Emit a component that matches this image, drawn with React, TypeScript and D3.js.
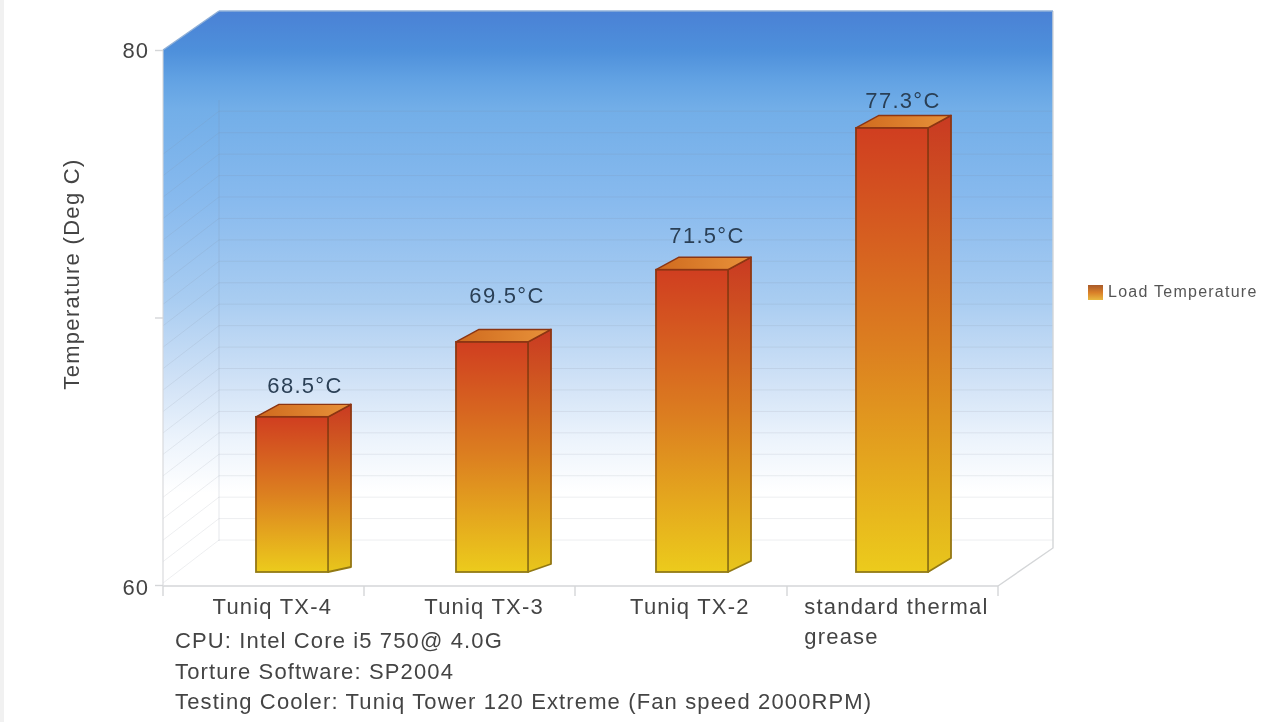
import * as d3 from 'd3';
import React, { useEffect, useRef } from 'react';

const categories = ['Tuniq TX-4', 'Tuniq TX-3', 'Tuniq TX-2', 'standard thermal'];
const barValues = [65.8, 68.6, 71.3, 76.6];
const valueLabels = ['68.5°C', '69.5°C', '71.5°C', '77.3°C'];
const yTickValues = [60, 70, 80];
const yTickLabels = ['60', '', '80'];
const gridValues = d3.range(60.26, 76.4, 0.8);
const notes = [
  'CPU: Intel Core i5 750@ 4.0G',
  'Torture Software: SP2004',
  'Testing Cooler: Tuniq Tower 120 Extreme (Fan speed 2000RPM)',
];
const fontFamily = '"Liberation Sans", Arial, sans-serif';

const width = 1280;
const height = 722;
const plot = { left: 163, right: 998, top: 50, bottom: 585 };
const depth = { dx: 56, dy: -39 };

function addGradient(defs: any, id: string, stops: [number, string][], extra: any = {}) {
  const g = defs.append('linearGradient').attr('id', id).attr('x1', 0).attr('x2', extra.x2 || 0).attr('y1', 0).attr('y2', extra.x2 ? 0 : 1);
  if (extra.user) {
    g.attr('gradientUnits', 'userSpaceOnUse').attr('y1', extra.user[0]).attr('y2', extra.user[1]);
  }
  stops.forEach(([o, c]) => g.append('stop').attr('offset', o).attr('stop-color', c));
}

export default function App() {
  const ref = useRef<SVGSVGElement>(null);

  useEffect(() => {
    const svg = d3.select(ref.current);
    svg.selectAll('*').remove();
    const defs = svg.append('defs');

    addGradient(defs, 'wall', [
      [0, '#4a81d5'],
      [0.07, '#4e90db'],
      [0.12, '#62a2e3'],
      [0.17, '#72aee8'],
      [0.33, '#88baee'],
      [0.5, '#a8ccf1'],
      [0.64, '#cfe1f6'],
      [0.75, '#edf4fc'],
      [0.84, '#ffffff'],
      [1, '#ffffff'],
    ], { user: [11, 585] });
    addGradient(defs, 'barFront', [[0, '#d03e20'], [0.5, '#dc8020'], [1, '#eccb1c']]);
    addGradient(defs, 'barSide', [[0, '#c93a22'], [0.5, '#d97c1f'], [1, '#e8c61c']]);
    addGradient(defs, 'barTop', [[0, '#cf6a1e'], [1, '#e8923a']], { x2: 1 });
    addGradient(defs, 'barEdge', [[0, '#8c3512'], [0.6, '#a05a12'], [1, '#927a14']]);
    addGradient(defs, 'swatch', [[0, '#a85a2a'], [0.5, '#d97f28'], [1, '#e8b840']]);

    svg.append('rect').attr('width', 4).attr('height', height).attr('fill', '#f1f1f1');

    const y = d3.scaleLinear().domain([60, 80]).range([plot.bottom, plot.top]);
    // back wall is the front scale pushed up, floor line sits a bit lower
    const yBack = d3.scaleLinear().domain([60, 80]).range([547, 11]);
    const yBar = d3.scaleLinear().domain([60, 80]).range([572, 37]);
    const xAxisBand = d3.scaleBand().domain(categories).range([plot.left, plot.right]);
    const xBar = d3.scaleBand().domain(categories).range([192, 992]).paddingInner(0.64).paddingOuter(0.32);
    // ticks are not evenly spaced in the picture
    const xTick = d3.scaleLinear().domain([0, 1, 2, 3, 4]).range([plot.left, 364, 575, 787, plot.right]);
    const bottomRise = d3.scaleLinear().domain([0, 3]).range([5, 14]);

    const backLeft = plot.left + depth.dx;
    const backRight = plot.right + 55;
    const poly = (pts: [number, number][]) => d3.line()(pts) + 'Z';

    // walls
    svg.append('path')
      .attr('d', poly([[plot.left, plot.top], [backLeft, 11], [backLeft, 541], [plot.left, plot.bottom]]))
      .attr('fill', 'url(#wall)');
    svg.append('rect')
      .attr('x', backLeft).attr('y', 11)
      .attr('width', backRight - backLeft).attr('height', 537)
      .attr('fill', 'url(#wall)');

    // grid
    const grid = svg.append('g').attr('fill', 'none').attr('stroke', '#7c8894').attr('stroke-opacity', 0.14);
    grid.selectAll('line.h').data(gridValues).enter().append('line')
      .attr('class', 'h')
      .attr('x1', backLeft).attr('x2', backRight)
      .attr('y1', (d) => yBack(d)).attr('y2', (d) => yBack(d));
    grid.selectAll('line.d').data(gridValues).enter().append('line')
      .attr('class', 'd')
      .attr('x1', backLeft).attr('x2', plot.left)
      .attr('y1', (d) => yBack(d)).attr('y2', (d) => yBack(d) + 43);
    svg.append('line').attr('x1', backLeft).attr('x2', backLeft).attr('y1', 100).attr('y2', 541)
      .attr('stroke', '#7c8894').attr('stroke-opacity', 0.2);

    // frame
    const frame = svg.append('g').attr('fill', 'none').attr('stroke', '#d4d6d8').attr('stroke-width', 1.4);
    frame.append('path').attr('d', d3.line()([[backRight, 11], [backRight, 548], [plot.right, plot.bottom + 1]]));
    frame.append('path').attr('d', d3.line()([[plot.left, plot.top], [plot.left, plot.bottom]])).attr('stroke-opacity', 0.75);
    frame.append('path').attr('d', d3.line()([[backLeft, 11], [backRight, 11]])).attr('stroke', '#8fb0d8');
    frame.append('path').attr('d', d3.line()([[plot.left, plot.top], [backLeft, 11]])).attr('stroke', '#8fb0d8');

    // y axis ticks
    const yAxis = d3.axisLeft(y)
      .tickValues(yTickValues)
      .tickSize(8)
      .tickPadding(6)
      .tickFormat((_d, i) => yTickLabels[i]);
    const yG = svg.append('g').attr('transform', `translate(${plot.left},0)`).call(yAxis as any);
    yG.select('.domain').remove();
    yG.selectAll('line').attr('stroke', '#d4d6d8').attr('stroke-width', 1.4);
    yG.selectAll('text')
      .attr('font-family', fontFamily).attr('font-size', 22).attr('fill', '#444').attr('letter-spacing', 1);
    yG.selectAll('.tick').filter((d: any) => d === 60).select('text').attr('dy', '0.45em');

    // x axis
    const xEdges = d3.range(0, categories.length + 1);
    svg.append('line')
      .attr('x1', plot.left).attr('x2', plot.right)
      .attr('y1', plot.bottom + 1).attr('y2', plot.bottom + 1)
      .attr('stroke', '#d4d6d8').attr('stroke-width', 1.4);
    svg.append('g').selectAll('line').data(xEdges).enter().append('line')
      .attr('x1', (d) => xTick(d)).attr('x2', (d) => xTick(d))
      .attr('y1', plot.bottom + 1).attr('y2', plot.bottom + 11)
      .attr('stroke', '#d4d6d8').attr('stroke-width', 1.4);

    const catText = svg.append('g')
      .attr('font-family', fontFamily).attr('font-size', 22).attr('fill', '#444').attr('letter-spacing', 1.2);
    catText.selectAll('text.cat').data(categories.slice(0, 3)).enter().append('text')
      .attr('class', 'cat')
      .attr('x', (d, i) => (xAxisBand(d) as number) + xAxisBand.bandwidth() / 2 + [5, 8, 5][i])
      .attr('y', 614)
      .attr('text-anchor', 'middle')
      .text((d) => d);
    const lastX = (xAxisBand(categories[3]) as number) + 15;
    catText.append('text').attr('x', lastX).attr('y', 614).text(categories[3]);
    catText.append('text').attr('x', lastX).attr('y', 644).text('grease');

    // bars
    const bars = svg.append('g').selectAll('g').data(barValues).enter().append('g');
    const bx0 = (i: number) => xBar(categories[i]) as number;
    const bx1 = (i: number) => bx0(i) + xBar.bandwidth();
    const barDx = 23;
    const barTopDy = 12.5;
    const edge = { stroke: 'url(#barEdge)', width: 1.8 };
    bars.append('path')
      .attr('d', (d, i) => poly([
        [bx1(i), yBar(d)],
        [bx1(i) + barDx, yBar(d) - barTopDy],
        [bx1(i) + barDx, yBar(60) - bottomRise(i)],
        [bx1(i), yBar(60)],
      ]))
      .attr('fill', 'url(#barSide)')
      .attr('stroke', edge.stroke).attr('stroke-width', edge.width).attr('stroke-linejoin', 'round');
    bars.append('path')
      .attr('d', (d, i) => poly([
        [bx0(i), yBar(d)],
        [bx0(i) + barDx, yBar(d) - barTopDy],
        [bx1(i) + barDx, yBar(d) - barTopDy],
        [bx1(i), yBar(d)],
      ]))
      .attr('fill', 'url(#barTop)')
      .attr('stroke', '#8c3512').attr('stroke-width', 1.4).attr('stroke-linejoin', 'round');
    bars.append('rect')
      .attr('x', (_d, i) => bx0(i))
      .attr('y', (d) => yBar(d))
      .attr('width', xBar.bandwidth())
      .attr('height', (d) => yBar(60) - yBar(d))
      .attr('fill', 'url(#barFront)')
      .attr('stroke', edge.stroke).attr('stroke-width', edge.width);

    // value labels, placed over their bars
    svg.append('g').selectAll('text').data(valueLabels).enter().append('text')
      .attr('x', (_d, i) => bx0(i) + xBar.bandwidth() / 2 + [13, 15, 15, 11][i])
      .attr('y', (_d, i) => yBar(barValues[i]) - [24, 39, 27, 20][i])
      .attr('text-anchor', 'middle')
      .attr('font-family', fontFamily).attr('font-size', 22)
      .attr('fill', '#2a3f55').attr('letter-spacing', 1.3)
      .text((d) => d);

    // y title
    svg.append('text')
      .attr('transform', 'translate(79,274) rotate(-90)')
      .attr('text-anchor', 'middle')
      .attr('font-family', fontFamily).attr('font-size', 22)
      .attr('fill', '#444').attr('letter-spacing', 1.3)
      .text('Temperature (Deg C)');

    // notes
    svg.append('g').selectAll('text').data(notes).enter().append('text')
      .attr('x', 175)
      .attr('y', (_d, i) => 648 + i * 30.5)
      .attr('font-family', fontFamily).attr('font-size', 22)
      .attr('fill', '#444').attr('letter-spacing', 1.13)
      .text((d) => d);

    // legend
    svg.append('rect')
      .attr('x', 1088).attr('y', 285).attr('width', 15).attr('height', 15)
      .attr('fill', 'url(#swatch)');
    svg.append('text')
      .attr('x', 1108).attr('y', 297)
      .attr('font-family', fontFamily).attr('font-size', 16)
      .attr('fill', '#555').attr('letter-spacing', 1.25)
      .text('Load Temperature');
  }, []);

  return (
    <svg
      ref={ref}
      width={width}
      height={height}
      style={{ position: 'absolute', left: 0, top: 0, background: '#fff', filter: 'blur(0.5px)' }}
    />
  );
}
